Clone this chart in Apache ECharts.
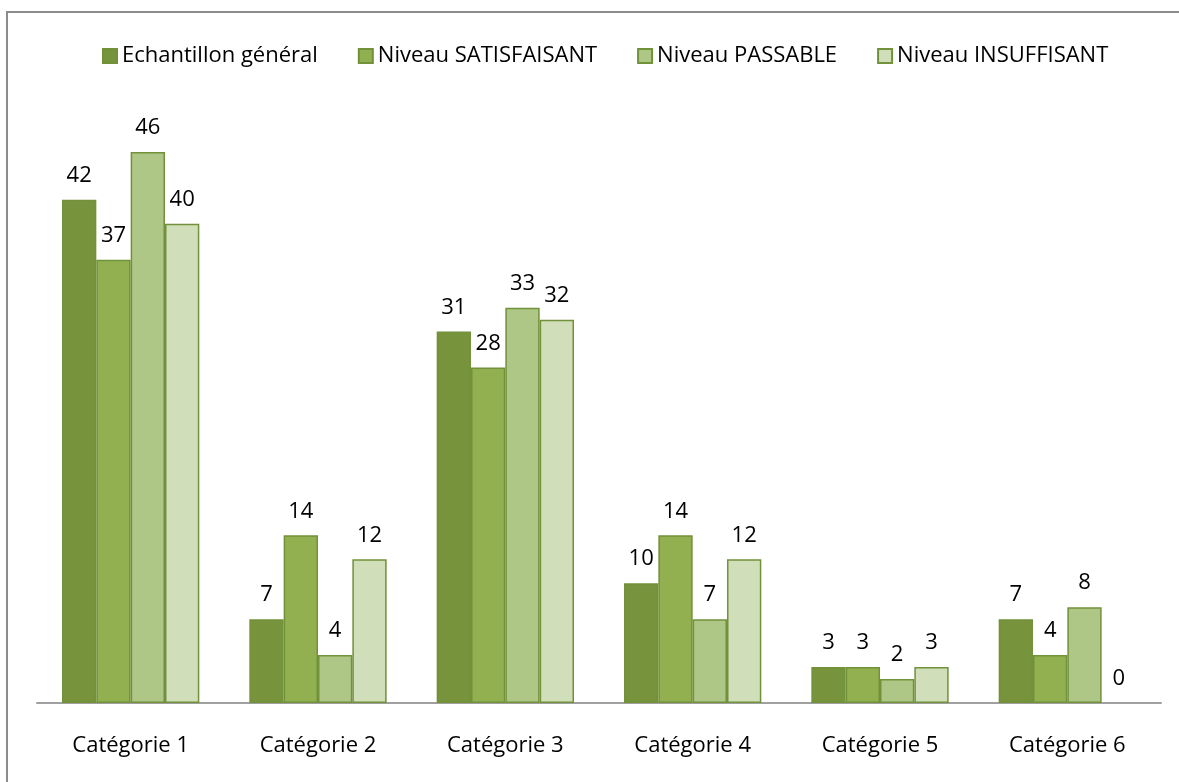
<!DOCTYPE html>
<html>
<head>
<meta charset="utf-8">
<script src="https://cdn.jsdelivr.net/npm/echarts@6/dist/echarts.min.js"></script>
<style>
  html, body { margin: 0; padding: 0; background: #fff; }
  #chart { width: 1179px; height: 782px; }
</style>
</head>
<body>
<div id="chart"></div>
<script>
// données
const categories = ['Catégorie 1', 'Catégorie 2', 'Catégorie 3', 'Catégorie 4', 'Catégorie 5', 'Catégorie 6'];
const seriesNames = ['Echantillon général', 'Niveau SATISFAISANT', 'Niveau PASSABLE', 'Niveau INSUFFISANT'];
const echantillon = [42, 7, 31, 10, 3, 7];
const satisfaisant = [37, 14, 28, 14, 3, 4];
const passable = [46, 4, 33, 7, 2, 8];
const insuffisant = [40, 12, 32, 12, 3, 0];

const colors = ['#77933C', '#92B050', '#AEC787', '#D0DEBA'];
const font = 'Open Sans, Calibri, sans-serif';

const allData = [echantillon, satisfaisant, passable, insuffisant];

const chart = echarts.init(document.getElementById('chart'));
chart.setOption({
  animation: false,
  textStyle: { fontFamily: font },
  legend: {
    top: 40,
    left: 97,
    itemWidth: 14,
    itemHeight: 14,
    itemGap: 40,
    icon: 'rect',
    textStyle: { fontSize: 22, color: '#000', fontFamily: font },
    data: seriesNames
  },
  graphic: [{
    type: 'rect',
    shape: { x: 7, y: 12, width: 1200, height: 800 },
    style: { fill: 'none', stroke: '#8c8c8c', lineWidth: 2 }
  }],
  grid: { left: 37, right: 18, top: 104, bottom: 79 },
  xAxis: {
    type: 'category',
    data: categories,
    axisLine: { lineStyle: { color: '#a0a0a0', width: 2 } },
    axisTick: { show: false },
    axisLabel: { fontSize: 22, color: '#000', margin: 32, fontFamily: font }
  },
  yAxis: {
    type: 'value',
    min: 0,
    max: 50,
    show: false,
    splitLine: { show: false }
  },
  series: seriesNames.map((name, i) => ({
    name: name,
    type: 'bar',
    // pas de bordure pour les barres nulles
    data: allData[i].map(v => v === 0 ? { value: v, itemStyle: { borderWidth: 0 } } : v),
    barGap: '0%',
    barCategoryGap: '26.7%',
    itemStyle: { color: colors[i], borderColor: '#71913A', borderWidth: 1.5 },
    label: {
      show: true,
      position: 'top',
      distance: 13,
      fontSize: 22,
      color: '#000',
      fontFamily: font
    }
  }))
});
</script>
</body>
</html>
